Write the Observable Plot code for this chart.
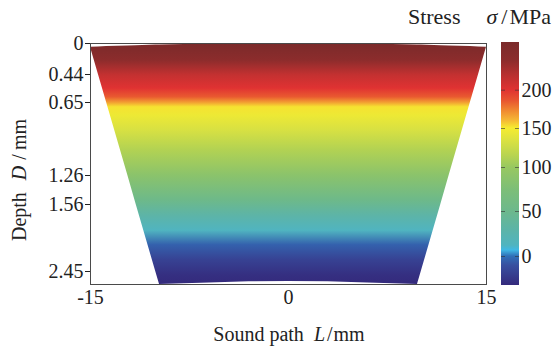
<!DOCTYPE html>
<html><head><meta charset="utf-8">
<script src="https://cdn.jsdelivr.net/npm/d3@7"></script>
<script src="https://cdn.jsdelivr.net/npm/@observablehq/plot@0.6"></script>
<style>
body{margin:0;background:#fff;}
#wrap{position:relative;width:552px;height:349px;overflow:hidden;}
#wrap svg{position:absolute;left:0;top:0;}
</style></head><body><div id="wrap"></div>
<script>
// ---- data ----
const xTicks = [-15, 0, 15];
const depthTicks = [0, 0.44, 0.65, 1.26, 1.56, 2.45];
// non-uniform depth axis: depth breakpoints and their relative row position (0 = top of frame, 241 = bottom)
const depthBreaks = [0, 0.44, 0.65, 1.26, 1.56, 2.45, 2.62];
const depthRows   = [0, 31, 59, 132, 161, 228, 241];
// outline of the imaged region (x in mm, top/bottom depth in mm)
const outlineX      = [-15, -14.40, -13.78, -12.17, -11.54, -10.06, -9.77, -6, -3, 0, 3, 6, 9.77, 10.06, 11.54, 12.17, 13.78, 14.40, 15];
const outlineTop    = [0.052, 0.048, 0.044, 0.034, 0.031, 0.023, 0.022, 0.008, 0.002, 0, 0.002, 0.008, 0.022, 0.023, 0.031, 0.034, 0.044, 0.048, 0.052];
const outlineBottom = [0.052, 0.44, 0.65, 1.26, 1.56, 2.45, 2.62, 2.60, 2.585, 2.58, 2.585, 2.60, 2.62, 2.45, 1.56, 1.26, 0.65, 0.44, 0.052];
// stress profile with depth
const profileDepth  = [0, 0.24, 0.447, 0.545, 0.61, 0.65, 0.69, 0.76, 0.88, 1.05, 1.26, 1.52, 1.71, 1.91, 2.10, 2.30, 2.50, 2.62];
const profileStress = [255, 234, 212, 200, 185, 168, 152, 145, 133, 112, 88, 52, 30, 12, -5, -20, -32, -35];
// colour map
const stressStops  = [-35, -11, 0, 6.7, 12, 29, 50, 74, 100, 115, 135, 150, 160, 173, 186, 200, 217, 234, 255];
const stressColors = ["#342a7c","#3850a0","#3070b8","#40b8e4","#50b4c0","#5cb4a8","#6cb88c","#7cbe78","#98c860","#b8d450","#dce240","#f6ec30","#f5b835","#f08830","#e85530","#e03232","#b83030","#8c2c2c","#7a2a2a"];
const cbTicks = [0, 50, 100, 150, 200];
// non-uniform colour-bar axis: values and their row position (0 = top of bar, 243 = bottom)
const cbBreaks = [-35, 0, 50, 100, 150, 200, 255];
const cbRows   = [243, 214, 169, 125, 86, 47.7, 0];

// ---- drawing ----
const wrap = document.getElementById("wrap");
const font = "'Liberation Serif','Times New Roman',serif";
const baseStyle = {fontFamily: font, fontSize: "20px", color: "#222", background: "transparent", overflow: "visible"};
const colorScale = Plot.scale({color: {type: "linear", domain: stressStops, range: stressColors, interpolate: "rgb"}});
const depthRow = d3.scaleLinear().domain(depthBreaks).range(depthRows);
const cbRow = d3.scaleLinear().domain(cbBreaks).range(cbRows);
const outline = outlineX.map((x, i) => ({x, top: depthRow(outlineTop[i]), bottom: depthRow(outlineBottom[i])}));
const rowTicks = depthTicks.map(depthRow);
const labelFor = (rows, labels) => v => { const i = rows.findIndex(r => Math.abs(r - v) < 1e-6); return i < 0 ? "" : String(labels[i]); };

const main = Plot.plot({
  width: 552, height: 349,
  marginLeft: 90, marginRight: 66, marginTop: 43, marginBottom: 65,
  style: baseStyle,
  x: {domain: [-15, 15], ticks: xTicks, tickSize: 0, tickPadding: 5, tickFormat: d => String(d), label: null},
  y: {domain: [0, depthRows[depthRows.length - 1]], reverse: true, ticks: rowTicks, tickSize: 5, tickPadding: 2, tickFormat: labelFor(rowTicks, depthTicks), label: null},
  marks: [
    Plot.areaY(outline, {x: "x", y1: "top", y2: "bottom", fill: "url(#fieldGrad)"}),
    Plot.frame({stroke: "#4a4a4a"})
  ]
});
wrap.append(main);
const yS = main.scale("y");
const fy0 = yS.apply(depthRow(profileDepth[0])), fy1 = yS.apply(depthRow(profileDepth[profileDepth.length - 1]));
const mdefs = d3.select(main).insert("defs", ":first-child");
const fg = mdefs.append("linearGradient").attr("id", "fieldGrad").attr("gradientUnits", "userSpaceOnUse")
  .attr("x1", 0).attr("x2", 0).attr("y1", fy0).attr("y2", fy1);
profileDepth.forEach((d, i) => fg.append("stop")
  .attr("offset", (yS.apply(depthRow(d)) - fy0) / (fy1 - fy0))
  .attr("stop-color", colorScale.apply(profileStress[i])));

const cbRowTicks = cbTicks.map(cbRow);
const cb = Plot.plot({
  width: 552, height: 349,
  marginLeft: 501, marginRight: 33, marginTop: 42, marginBottom: 64,
  style: baseStyle,
  x: {domain: [0, 1], axis: null},
  y: {domain: [0, cbRows[0]], reverse: true, ticks: cbRowTicks, tickSize: 0, tickPadding: 2, axis: "right", label: null, tickFormat: labelFor(cbRowTicks, cbTicks)},
  marks: [
    Plot.rect([cbBreaks], {x1: () => 0, x2: () => 1, y1: d => cbRow(d[0]), y2: d => cbRow(d[d.length - 1]), fill: "url(#cbGrad)"}),
    Plot.tickY(cbTicks, {y: d => cbRow(d), stroke: "#333", strokeOpacity: 0.6, insetRight: 14}),
    Plot.tickY(cbTicks, {y: d => cbRow(d), stroke: "#333", strokeOpacity: 0.6, insetLeft: 14})
  ]
});
wrap.append(cb);
const cyS = cb.scale("y");
const cy0 = cyS.apply(cbRow(cbBreaks[cbBreaks.length - 1])), cy1 = cyS.apply(cbRow(cbBreaks[0]));
const cdefs = d3.select(cb).insert("defs", ":first-child");
const cg = cdefs.append("linearGradient").attr("id", "cbGrad").attr("gradientUnits", "userSpaceOnUse")
  .attr("x1", 0).attr("x2", 0).attr("y1", cy0).attr("y2", cy1);
Array.from(new Set([...stressStops, ...cbBreaks])).sort((a, b) => b - a).forEach(v => cg.append("stop")
  .attr("offset", (cyS.apply(cbRow(v)) - cy0) / (cy1 - cy0))
  .attr("stop-color", colorScale.apply(v)));

// ---- titles ----
const ov = d3.select(wrap).append("svg").attr("width", 552).attr("height", 349)
  .style("font-family", font).style("font-size", "20px").attr("fill", "#222");
const xt = ov.append("text").attr("x", 289).attr("y", 341).attr("text-anchor", "middle");
xt.append("tspan").text("Sound path");
xt.append("tspan").attr("dx", 10).attr("font-style", "italic").text("L");
xt.append("tspan").attr("dx", 2).text("/");
xt.append("tspan").attr("dx", 1).text("mm");
const yt = ov.append("text").attr("transform", "translate(26,180) rotate(-90)").attr("text-anchor", "middle");
yt.append("tspan").text("Depth");
yt.append("tspan").attr("dx", 12).attr("font-style", "italic").text("D");
yt.append("tspan").attr("dx", 6).text("/");
yt.append("tspan").attr("dx", 4).text("mm");
const tt = ov.append("text").attr("x", 551).attr("y", 24).attr("text-anchor", "end").style("font-size", "22px");
tt.append("tspan").text("Stress");
tt.append("tspan").attr("dx", 26).attr("font-style", "italic").text("σ");
tt.append("tspan").attr("dx", 4).text("/");
tt.append("tspan").attr("dx", 2).text("MPa");
</script>
</body></html>
